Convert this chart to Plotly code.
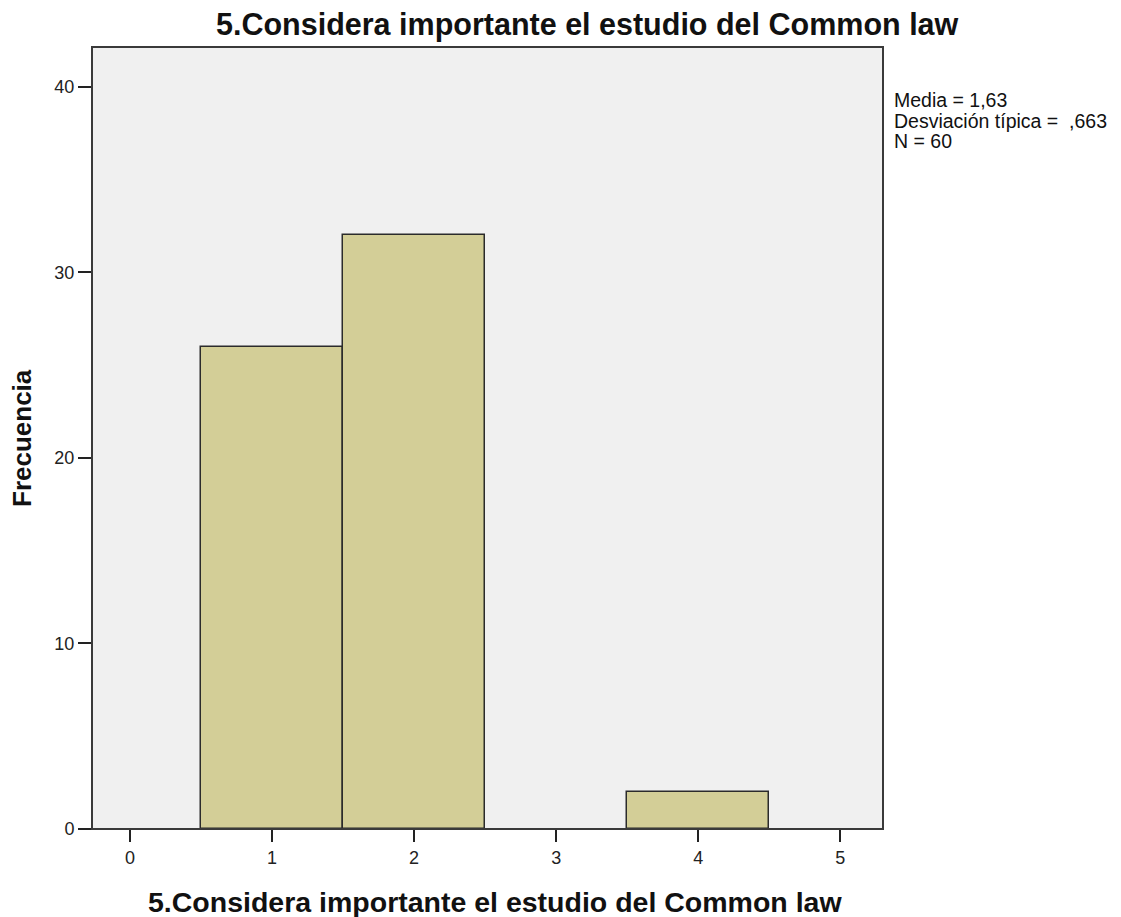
import numpy as np
import plotly.graph_objects as go

# Datos del histograma
valores = [1, 2, 4]
frecuencias = [26, 32, 2]
x_ticks = [0, 1, 2, 3, 4, 5]
y_ticks = [0, 10, 20, 30, 40]
titulo = "5.Considera importante el estudio del Common law"
titulo_y = "Frecuencia"

# Estadísticos (formato español, como en SPSS)
datos = np.repeat(valores, frecuencias)
media = datos.mean()
desv = datos.std(ddof=1)
n = len(datos)
lineas_stats = [
    "Media = " + f"{media:.2f}".replace(".", ","),
    "Desviación típica =  " + f"{desv:.3f}".replace("0.", ","),
    f"N = {n}",
]

FUENTE = "Liberation Sans, Arial, sans-serif"

fig = go.Figure()

fig.add_trace(
    go.Bar(
        x=valores,
        y=frecuencias,
        width=1,
        marker=dict(color="#d3ce97", line=dict(color="#2b2b2b", width=1.5)),
        showlegend=False,
    )
)

# Marco del área de trazado
fig.add_shape(
    type="rect", xref="x domain", yref="y domain",
    x0=0, x1=1, y0=0, y1=1,
    line=dict(color="#3a3a3a", width=2),
)

# Cuadro de estadísticos
for i, linea in enumerate(lineas_stats):
    fig.add_annotation(
        text=linea, xref="paper", yref="paper",
        x=1.0, y=1.0, xshift=9, yshift=-40 - 20.5 * i,
        xanchor="left", yanchor="top", align="left", showarrow=False,
        font=dict(family=FUENTE, size=19.5, color="#111111"),
    )

# Título
fig.add_annotation(
    text="<b>" + titulo + "</b>", xref="paper", yref="paper",
    x=0.6265, y=1.0, yshift=23, xanchor="center", yanchor="middle",
    showarrow=False,
    font=dict(family=FUENTE, size=30.5, color="#111111"),
)

# Título eje x
fig.add_annotation(
    text="<b>" + titulo + "</b>", xref="paper", yref="paper",
    x=0.5095, y=0.0, yshift=-73, xanchor="center", yanchor="middle",
    showarrow=False,
    font=dict(family=FUENTE, size=28.5, color="#111111"),
)

# Título eje y
fig.add_annotation(
    text="<b>" + titulo_y + "</b>", xref="paper", yref="paper",
    x=0.0, y=0.5, xshift=-70, xanchor="center", yanchor="middle",
    textangle=-90, showarrow=False,
    font=dict(family=FUENTE, size=26, color="#111111"),
)

fig.update_layout(
    width=1113,
    height=909,
    paper_bgcolor="white",
    plot_bgcolor="#f0f0f0",
    margin=dict(l=84, r=238, t=39, b=88),
    bargap=0,
    font=dict(family=FUENTE, size=18, color="#222222"),
    xaxis=dict(
        range=[-0.267, 5.30],
        tickvals=x_ticks,
        ticks="outside", ticklen=12, tickwidth=2, tickcolor="#222222",
        showgrid=False, zeroline=False, showline=False,
        tickfont=dict(size=18),
    ),
    yaxis=dict(
        range=[0, 42.15],
        tickvals=y_ticks,
        ticks="outside", ticklen=13, tickwidth=2, tickcolor="#222222",
        showgrid=False, zeroline=False, showline=False,
        tickfont=dict(size=18),
    ),
)

fig.write_html("out.html")
